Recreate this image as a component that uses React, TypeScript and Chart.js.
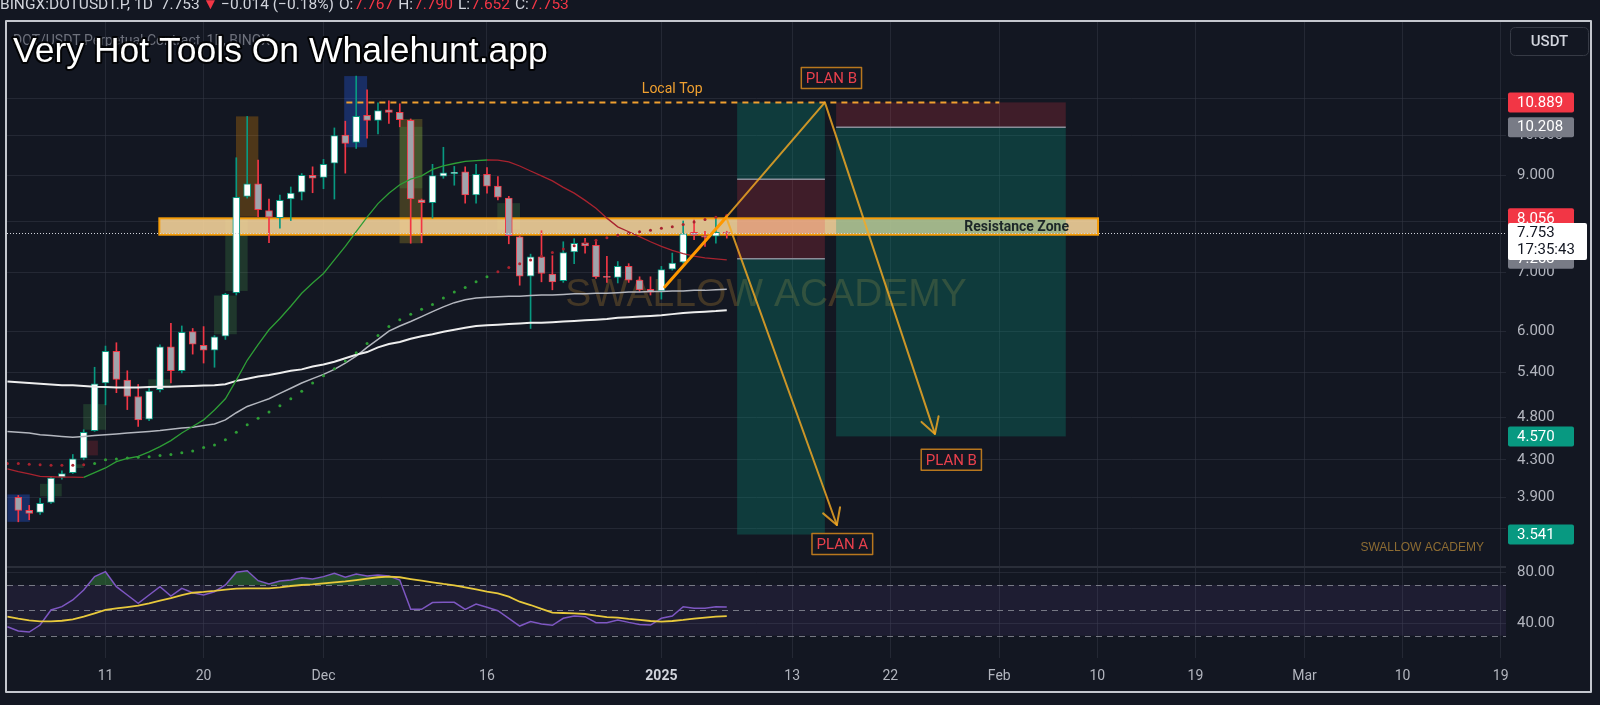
import React, { useEffect, useRef } from 'react';
import { Chart, registerables } from 'chart.js';

Chart.register(...registerables);

// ---------------- data (day 0 = 3 Nov 2024, one unit = one daily candle) ----------------
const CANDLE_FIRST_DAY = 0;
const opens = [3.90, 3.77, 3.75, 3.85, 4.11, 4.16, 4.32, 4.64, 5.25, 5.70,
  5.29, 5.07, 4.78, 5.16, 5.77, 5.42, 6.00, 5.79, 5.72, 5.93,
  6.64, 8.53, 8.81, 8.22, 8.07, 8.47, 8.62, 9.01, 8.96, 9.30,
  10.00, 9.81, 10.53, 10.39, 10.68, 10.61, 10.39, 8.45, 8.39, 8.99,
  9.05, 9.09, 8.56, 9.03, 8.76, 8.49, 7.68, 6.93, 7.29, 6.97,
  6.85, 7.38, 7.56, 7.51, 6.93, 6.91, 7.11, 6.86, 6.70, 6.67,
  7.06, 7.19, 7.77, 7.69, 7.69, 7.767];
const highs = [3.92, 3.82, 3.89, 4.12, 4.18, 4.36, 4.65, 5.47, 5.78, 5.83,
  5.42, 5.23, 5.18, 5.80, 6.13, 6.09, 6.05, 6.08, 5.94, 6.63,
  9.43, 10.50, 9.37, 8.47, 8.56, 8.74, 9.05, 9.21, 9.39, 10.19,
  10.37, 11.66, 11.25, 10.88, 10.93, 10.85, 10.43, 8.47, 9.27, 9.69,
  9.22, 9.21, 9.27, 9.19, 8.98, 8.53, 7.70, 7.34, 7.80, 7.31,
  7.58, 7.64, 7.65, 7.62, 7.30, 7.20, 7.16, 6.92, 6.92, 7.11,
  7.36, 8.00, 8.02, 7.79, 8.04, 7.79];
const lows = [3.66, 3.68, 3.73, 3.84, 4.09, 4.15, 4.30, 4.63, 4.96, 5.12,
  4.90, 4.69, 4.76, 5.13, 5.25, 5.39, 5.66, 5.53, 5.47, 5.88,
  6.60, 8.49, 8.09, 7.56, 7.85, 8.01, 8.45, 8.61, 8.70, 8.47,
  9.06, 9.66, 9.92, 10.03, 10.31, 10.22, 7.55, 7.56, 8.06, 8.94,
  8.78, 8.38, 8.38, 8.60, 8.45, 7.54, 6.77, 6.05, 6.83, 6.69,
  6.82, 7.16, 7.36, 6.89, 6.82, 6.81, 6.82, 6.66, 6.60, 6.53,
  7.04, 7.17, 7.62, 7.49, 7.55, 7.652];
const closes = [3.77, 3.74, 3.84, 4.10, 4.15, 4.31, 4.62, 5.24, 5.70, 5.30,
  5.07, 4.77, 5.14, 5.77, 5.42, 5.99, 5.81, 5.72, 5.92, 6.61,
  8.51, 8.81, 8.24, 8.08, 8.44, 8.60, 9.01, 8.94, 9.27, 9.99,
  9.79, 10.50, 10.39, 10.66, 10.61, 10.41, 8.47, 8.39, 9.00, 9.07,
  9.08, 8.56, 9.03, 8.76, 8.51, 7.70, 6.93, 7.29, 6.98, 6.83,
  7.37, 7.55, 7.50, 6.92, 6.91, 7.11, 6.86, 6.69, 6.65, 7.05,
  7.17, 7.74, 7.71, 7.67, 7.77, 7.753];

const LINE_FIRST_DAY = -1;
const sma200 = [5.27, 5.26, 5.25, 5.24, 5.23, 5.22, 5.22, 5.21, 5.20, 5.195, 5.19,
  5.19, 5.19, 5.195, 5.20, 5.20, 5.205, 5.21, 5.215, 5.22, 5.235,
  5.28, 5.31, 5.34, 5.36, 5.39, 5.42, 5.44, 5.48, 5.51, 5.55,
  5.60, 5.65, 5.69, 5.76, 5.81, 5.84, 5.89, 5.93, 5.96, 6.00,
  6.03, 6.06, 6.09, 6.10, 6.11, 6.12, 6.13, 6.14, 6.14, 6.15,
  6.16, 6.17, 6.18, 6.19, 6.20, 6.22, 6.23, 6.24, 6.25, 6.26,
  6.28, 6.30, 6.31, 6.32, 6.33, 6.345];
const sma100 = [4.63, 4.62, 4.61, 4.59, 4.58, 4.57, 4.56, 4.57, 4.58, 4.59, 4.60,
  4.61, 4.62, 4.63, 4.64, 4.655, 4.67, 4.68, 4.70, 4.72, 4.77,
  4.86, 4.94, 4.99, 5.04, 5.11, 5.18, 5.25, 5.31, 5.37, 5.44,
  5.53, 5.63, 5.76, 5.88, 6.01, 6.09, 6.16, 6.24, 6.32, 6.40,
  6.47, 6.52, 6.55, 6.56, 6.57, 6.58, 6.58, 6.59, 6.60, 6.60,
  6.61, 6.62, 6.62, 6.63, 6.63, 6.64, 6.65, 6.65, 6.66, 6.66,
  6.67, 6.67, 6.68, 6.68, 6.69, 6.70];
const ema20 = [4.20, 4.17, 4.145, 4.12, 4.115, 4.112, 4.11, 4.108, 4.16, 4.21, 4.28,
  4.315, 4.34, 4.39, 4.45, 4.52, 4.61, 4.69, 4.77, 4.895, 5.04,
  5.29, 5.57, 5.80, 6.03, 6.21, 6.41, 6.63, 6.81, 6.98, 7.23,
  7.49, 7.78, 8.08, 8.37, 8.60, 8.79, 8.92, 8.995, 9.15, 9.23,
  9.29, 9.34, 9.36, 9.375, 9.37, 9.33, 9.23, 9.11, 8.995, 8.88,
  8.73, 8.60, 8.44, 8.27, 8.06, 7.88, 7.78, 7.68, 7.58, 7.49,
  7.41, 7.35, 7.30, 7.27, 7.25, 7.23];
const trendDots = [4.26, 4.26, 4.25, 4.245, 4.24, 4.24, 4.24, 4.245, 4.26, 4.30, 4.31,
  4.32, 4.33, 4.335, 4.35, 4.36, 4.38, 4.40, 4.44, 4.47, 4.53,
  4.62, 4.71, 4.79, 4.87, 4.95, 5.04, 5.14, 5.25, 5.35, 5.45,
  5.56, 5.68, 5.82, 5.94, 6.08, 6.19, 6.28, 6.36, 6.44, 6.55,
  6.65, 6.73, 6.83, 6.92, 7.01, 7.09, 7.16, 7.23, 7.30, 7.37,
  7.44, 7.50, 7.56, 7.61, 7.66, 7.71, 7.75, 7.78, 7.81, 7.85,
  7.88, 7.93, 7.98, 8.03, 8.08, 8.12];
const rsiValues = [37.1, 33.7, 32.9, 38.4, 50.3, 52.9, 58.2, 66.1, 76.6, 80.5, 68.7,
  62.1, 55.5, 62.1, 68.7, 61.3, 67.4, 63.9, 62.1, 64.7, 70.0,
  80.0, 81.3, 73.4, 70.8, 73.2, 73.9, 75.8, 74.7, 76.6, 79.2,
  76.1, 78.7, 77.1, 77.9, 77.1, 73.9, 50.8, 50.8, 56.1, 56.3,
  56.3, 50.8, 55.0, 52.4, 49.7, 43.7, 37.6, 41.1, 39.2, 38.2,
  43.7, 45.5, 45.0, 40.3, 40.3, 42.4, 40.5, 38.9, 38.4, 43.7,
  45.5, 52.9, 51.6, 51.6, 52.9, 52.6];
const rsiAverage = [45.0, 43.4, 42.1, 41.3, 41.3, 41.8, 42.9, 45.0, 47.6, 50.3, 51.6,
  52.6, 53.7, 55.5, 57.6, 59.7, 62.1, 63.9, 64.5, 65.3, 66.3,
  67.1, 67.4, 67.4, 67.4, 68.2, 69.2, 70.0, 70.5, 71.3, 72.1,
  72.9, 73.9, 75.0, 76.1, 76.6, 76.1, 74.7, 73.4, 72.1, 70.8,
  69.7, 68.2, 66.6, 64.7, 63.4, 60.8, 56.8, 54.2, 51.1, 48.2,
  47.9, 47.6, 47.1, 45.8, 44.7, 44.2, 43.2, 42.4, 41.6, 41.1,
  41.6, 42.4, 43.4, 44.2, 45.0, 45.5];

const timeTickDays = [8, 17, 28, 43, 59, 71, 80, 90, 99, 108, 118, 127, 136];
const timeTickLabels = ['11', '20', 'Dec', '16', '2025', '13', '22', 'Feb', '10', '19', 'Mar', '10', '19'];
const boldTimeTick = 59;
const priceTickValues = [3.6, 3.9, 4.3, 4.8, 5.4, 6, 7, 8, 9, 10, 11];
const unlabeledPriceTicks = [3.6, 11];
const rsiTickValues = [40, 80];
const rsiLevelValues = [70, 50, 30];

const lastPrice = 7.753;
const countdownText = '17:35:43';
const badgeValues = [10.889, 10.208, 8.056, 7.253, 4.57, 3.541];
const badgeKinds = ['loss', 'entry', 'loss', 'entry', 'profit', 'profit'];

const highlightStartDays = [-1.0, 1.99, 5.0, 5.96, 5.96, 11.93, 17.96, 18.99, 19.97, 29.9, 34.98, 34.98, 43.95];
const highlightEndDays = [1.05, 3.98, 6.0, 7.3, 8.05, 13.98, 20.04, 21.04, 22.02, 32.0, 37.07, 37.07, 46.03];
const highlightLowPrices = [3.66, 3.91, 4.21, 4.35, 4.65, 5.18, 5.96, 6.67, 8.09, 9.69, 7.55, 8.71, 7.82];
const highlightHighPrices = [3.93, 4.04, 4.25, 4.52, 4.97, 5.30, 6.59, 8.04, 10.50, 11.66, 10.43, 10.22, 8.38];
const highlightKinds = ['blue', 'green', 'green', 'maroon', 'green', 'green', 'green', 'green', 'orange', 'blue', 'olive', 'green', 'green'];

const zoneDays = [12.94, 99.06];
const zonePrices = [7.72, 8.056];
const zoneTextDay = 96.4;
const zoneText = 'Resistance Zone';

const localTopDays = [30.1, 90.0];
const localTopPrice = 10.889;
const localTopLabelDay = 60.0;
const localTopLabelPrice = 11.27;

const toolRectStartDays = [65.95, 65.95, 65.95, 75.03, 75.03];
const toolRectEndDays = [74.0, 74.0, 74.0, 96.1, 96.1];
const toolRectHighPrices = [10.889, 8.92, 7.253, 10.889, 10.208];
const toolRectLowPrices = [8.92, 7.253, 3.541, 10.208, 4.57];
const toolRectKinds = ['profit', 'loss', 'profit', 'loss', 'profit'];
const toolLineStartDays = [65.95, 65.95, 75.03];
const toolLineEndDays = [74.0, 74.0, 96.1];
const toolLinePrices = [8.92, 7.253, 10.208];

const impulseDays = [59.3, 64.95];
const impulsePrices = [6.74, 8.08];
const planBDays = [64.95, 74.0, 84.1];
const planBPrices = [8.08, 10.889, 4.6];
const planADays = [64.95, 75.1];
const planAPrices = [8.08, 3.63];

const planLabelTexts = ['PLAN B', 'PLAN B', 'PLAN A'];
const planLabelDays = [74.6, 85.6, 75.6];
const planLabelPrices = [11.6, 4.3, 3.456];

const watermarkText = 'SWALLOW ACADEMY';
const watermarkDay = 68.6;
const watermarkPrice = 6.6;

const headerParts = ['BINGX:DOTUSDT.P, 1D', '7.753', '\u25BC', '\u22120.014 (\u22120.18%)', 'O:', '7.767', 'H:', '7.790', 'L:', '7.652', 'C:', '7.753'];
const headerGaps = [0, 8, 3, 3, 5, 1, 5, 1, 5, 1, 5, 1];
const headerPartRed = [false, false, true, false, false, true, false, true, false, true, false, true];
const titleText = 'Very Hot Tools On Whalehunt.app';
const subtitleText = 'DOT/USDT Perpetual Contract, 1D, BINGX';

// ---------------- styles ----------------
const BG = '#131722';
const GRID = 'rgba(54,58,69,0.5)';
const AXIS_TEXT = '#b2b5be';
const BULL = '#089981';
const BEAR = '#f23645';
const EMA_UP = '#2e9e36';
const EMA_DOWN = '#a8232f';
const FONT = 'Roboto, "Noto Sans", sans-serif';
const ARIAL = '"Liberation Sans", Arial, sans-serif';

const highlightFill: Record<string, string> = {
  blue: 'rgba(41,98,255,0.3)',
  green: 'rgba(76,175,80,0.22)',
  orange: 'rgba(255,152,0,0.25)',
  olive: 'rgba(190,160,40,0.28)',
  maroon: 'rgba(242,54,69,0.18)',
};
const toolFill: Record<string, string> = {
  profit: 'rgba(8,153,129,0.28)',
  loss: 'rgba(242,54,69,0.2)',
};
const badgeFill: Record<string, string> = {
  loss: '#f23645',
  entry: '#787b86',
  profit: '#089981',
};

function drawArrowHead(ctx: CanvasRenderingContext2D, x0: number, y0: number, x1: number, y1: number, len: number) {
  const a = Math.atan2(y1 - y0, x1 - x0);
  const spread = Math.PI / 6;
  ctx.beginPath();
  ctx.moveTo(x1 - len * Math.cos(a - spread), y1 - len * Math.sin(a - spread));
  ctx.lineTo(x1, y1);
  ctx.lineTo(x1 - len * Math.cos(a + spread), y1 - len * Math.sin(a + spread));
  ctx.stroke();
}

const overlayPlugin = {
  id: 'tvOverlay',
  beforeDatasetsDraw(chart: any) {
    const { ctx, chartArea } = chart;
    const xs = chart.scales.x, ys = chart.scales.y, rs = chart.scales.yRsi;
    const X = (d: number) => xs.getPixelForValue(d);
    const Y = (p: number) => ys.getPixelForValue(p);
    const R = (v: number) => rs.getPixelForValue(v);
    const L = chartArea.left, RT = chartArea.right, W = RT - L;
    ctx.save();
    // pane separator
    ctx.strokeStyle = '#2a2e39';
    ctx.lineWidth = 2;
    ctx.beginPath();
    ctx.moveTo(L, ys.bottom);
    ctx.lineTo(RT, ys.bottom);
    ctx.stroke();
    // RSI band + levels
    ctx.fillStyle = 'rgba(126,87,194,0.1)';
    ctx.fillRect(L, R(70), W, R(30) - R(70));
    ctx.setLineDash([6, 5]);
    ctx.lineWidth = 1;
    ctx.strokeStyle = 'rgba(149,152,161,0.75)';
    rsiLevelValues.forEach((v) => {
      const yy = Math.round(R(v)) + 0.5;
      ctx.beginPath();
      ctx.moveTo(L, yy);
      ctx.lineTo(RT, yy);
      ctx.stroke();
    });
    ctx.setLineDash([]);

    // price pane clip
    ctx.beginPath();
    ctx.rect(L, ys.top, W, ys.bottom - ys.top);
    ctx.clip();

    // big watermark
    ctx.font = '39px ' + ARIAL;
    ctx.fillStyle = 'rgba(180,130,50,0.3)';
    ctx.textAlign = 'center';
    ctx.textBaseline = 'middle';
    ctx.fillText(watermarkText, X(watermarkDay), Y(watermarkPrice));

    // highlight boxes
    highlightKinds.forEach((k, i) => {
      const x0 = X(highlightStartDays[i]), x1 = X(highlightEndDays[i]);
      const y0 = Y(highlightHighPrices[i]), y1 = Y(highlightLowPrices[i]);
      ctx.fillStyle = highlightFill[k];
      ctx.fillRect(x0, y0, x1 - x0, y1 - y0);
    });

    // resistance zone fill
    const zx0 = X(zoneDays[0]), zx1 = X(zoneDays[1]);
    const zy0 = Y(zonePrices[1]), zy1 = Y(zonePrices[0]);
    ctx.fillStyle = 'rgba(255,220,160,0.85)';
    ctx.fillRect(zx0, zy0, zx1 - zx0, zy1 - zy0);

    // position tools
    toolRectKinds.forEach((k, i) => {
      const x0 = X(toolRectStartDays[i]), x1 = X(toolRectEndDays[i]);
      const y0 = Y(toolRectHighPrices[i]), y1 = Y(toolRectLowPrices[i]);
      ctx.fillStyle = toolFill[k];
      ctx.fillRect(x0, y0, x1 - x0, y1 - y0);
    });
    ctx.strokeStyle = '#8a8e99';
    ctx.lineWidth = 1.5;
    toolLinePrices.forEach((p, i) => {
      const yy = Y(p);
      ctx.beginPath();
      ctx.moveTo(X(toolLineStartDays[i]), yy);
      ctx.lineTo(X(toolLineEndDays[i]), yy);
      ctx.stroke();
    });

    // zone border
    ctx.strokeStyle = '#f59d0a';
    ctx.lineWidth = 2;
    ctx.strokeRect(zx0, zy0, zx1 - zx0, zy1 - zy0);

    // local top
    ctx.setLineDash([6, 5]);
    ctx.strokeStyle = '#f0a030';
    ctx.lineWidth = 2;
    ctx.beginPath();
    ctx.moveTo(X(localTopDays[0]), Y(localTopPrice));
    ctx.lineTo(X(localTopDays[1]), Y(localTopPrice));
    ctx.stroke();
    ctx.setLineDash([]);
    ctx.font = '14px ' + FONT;
    ctx.fillStyle = '#f0a030';
    ctx.fillText('Local Top', X(localTopLabelDay), Y(localTopLabelPrice));
    ctx.restore();
  },
  afterDatasetsDraw(chart: any) {
    const { ctx, chartArea } = chart;
    const xs = chart.scales.x, ys = chart.scales.y;
    const X = (d: number) => xs.getPixelForValue(d);
    const Y = (p: number) => ys.getPixelForValue(p);
    const L = chartArea.left, RT = chartArea.right, W = RT - L;
    ctx.save();
    ctx.beginPath();
    ctx.rect(L, ys.top, W, ys.bottom - ys.top);
    ctx.clip();

    // last price dotted line
    const ly = Math.round(Y(lastPrice)) + 0.5;
    ctx.setLineDash([1, 2]);
    ctx.strokeStyle = '#d1d4dc';
    ctx.lineWidth = 1;
    ctx.beginPath();
    ctx.moveTo(L, ly);
    ctx.lineTo(RT, ly);
    ctx.stroke();
    ctx.setLineDash([]);

    // zone caption
    const zc = (Y(zonePrices[0]) + Y(zonePrices[1])) / 2;
    ctx.font = 'bold 14px ' + FONT;
    ctx.fillStyle = '#1c2628';
    ctx.textAlign = 'right';
    ctx.textBaseline = 'middle';
    ctx.fillText(zoneText, X(zoneTextDay), zc + 1);

    // scenario paths
    ctx.lineCap = 'round';
    ctx.lineJoin = 'round';
    ctx.strokeStyle = 'rgba(245,170,35,0.82)';
    ctx.lineWidth = 2;
    ctx.beginPath();
    planBDays.forEach((d, i) => {
      const px = X(d), py = Y(planBPrices[i]);
      if (i === 0) ctx.moveTo(px, py); else ctx.lineTo(px, py);
    });
    ctx.stroke();
    const nB = planBDays.length;
    drawArrowHead(ctx, X(planBDays[nB - 2]), Y(planBPrices[nB - 2]), X(planBDays[nB - 1]), Y(planBPrices[nB - 1]), 18);
    ctx.beginPath();
    ctx.moveTo(X(planADays[0]), Y(planAPrices[0]));
    ctx.lineTo(X(planADays[1]), Y(planAPrices[1]));
    ctx.stroke();
    drawArrowHead(ctx, X(planADays[0]), Y(planAPrices[0]), X(planADays[1]), Y(planAPrices[1]), 18);
    ctx.strokeStyle = '#ff9800';
    ctx.lineWidth = 3;
    ctx.beginPath();
    ctx.moveTo(X(impulseDays[0]), Y(impulsePrices[0]));
    ctx.lineTo(X(impulseDays[1]), Y(impulsePrices[1]));
    ctx.stroke();

    // plan labels
    ctx.font = '15px ' + FONT;
    ctx.textAlign = 'center';
    ctx.textBaseline = 'middle';
    planLabelTexts.forEach((t, i) => {
      const cx = X(planLabelDays[i]), cy = Y(planLabelPrices[i]);
      const w = ctx.measureText(t).width + 9;
      const h = 21;
      ctx.fillStyle = BG;
      ctx.fillRect(cx - w / 2, cy - h / 2, w, h);
      ctx.strokeStyle = '#b8771e';
      ctx.lineWidth = 1.5;
      ctx.strokeRect(cx - w / 2, cy - h / 2, w, h);
      ctx.fillStyle = '#e8404c';
      ctx.fillText(t, cx, cy + 1);
    });

    // small watermark
    ctx.font = '12px ' + ARIAL;
    ctx.fillStyle = '#8d6c33';
    ctx.textAlign = 'right';
    ctx.fillText(watermarkText, RT - 22, ys.bottom - 19);
    ctx.restore();
  },
  afterDraw(chart: any) {
    const { ctx, chartArea } = chart;
    const ys = chart.scales.y;
    const RT = chartArea.right;
    ctx.save();
    const rr = (x: number, y: number, w: number, h: number, r: number) => {
      ctx.beginPath();
      ctx.moveTo(x + r, y);
      ctx.lineTo(x + w - r, y);
      ctx.quadraticCurveTo(x + w, y, x + w, y + r);
      ctx.lineTo(x + w, y + h - r);
      ctx.quadraticCurveTo(x + w, y + h, x + w - r, y + h);
      ctx.lineTo(x + r, y + h);
      ctx.quadraticCurveTo(x, y + h, x, y + h - r);
      ctx.lineTo(x, y + r);
      ctx.quadraticCurveTo(x, y, x + r, y);
      ctx.closePath();
    };
    // price badges
    ctx.font = '15px ' + FONT;
    ctx.textAlign = 'left';
    ctx.textBaseline = 'middle';
    badgeValues.forEach((v, i) => {
      const cy = ys.getPixelForValue(v);
      ctx.fillStyle = badgeFill[badgeKinds[i]];
      rr(RT + 2, cy - 10, 66, 20, 2);
      ctx.fill();
      ctx.fillStyle = '#ffffff';
      ctx.fillText(v.toFixed(3), RT + 11, cy + 0.5);
    });
    const ly = ys.getPixelForValue(lastPrice);
    ctx.fillStyle = '#ffffff';
    rr(RT + 2, ly - 10, 79, 37, 2);
    ctx.fill();
    ctx.fillStyle = '#131722';
    ctx.fillText(lastPrice.toFixed(3), RT + 11, ly + 0.5);
    ctx.fillText(countdownText, RT + 11, ly + 17);

    // header (laid out left to right)
    ctx.font = '15.5px ' + FONT;
    ctx.textBaseline = 'alphabetic';
    let hx = 0;
    headerParts.forEach((t, i) => {
      hx += headerGaps[i];
      ctx.fillStyle = headerPartRed[i] ? '#f23645' : '#d1d4dc';
      ctx.fillText(t, hx, 9);
      hx += ctx.measureText(t).width;
    });
    // subtitle + title
    ctx.font = '14px ' + FONT;
    ctx.fillStyle = 'rgba(120,123,134,0.9)';
    ctx.textBaseline = 'middle';
    ctx.fillText(subtitleText, 13, 41);
    ctx.font = '35.5px ' + ARIAL;
    ctx.textBaseline = 'alphabetic';
    ctx.lineJoin = 'round';
    ctx.strokeStyle = 'rgba(0,0,0,0.85)';
    ctx.lineWidth = 4;
    ctx.strokeText(titleText, 13, 62);
    ctx.fillStyle = '#ffffff';
    ctx.fillText(titleText, 13, 62);

    // currency button
    ctx.strokeStyle = '#363a45';
    ctx.lineWidth = 1;
    rr(RT + 4.5, 27.5, 78, 28, 5);
    ctx.stroke();
    ctx.font = '500 15px ' + FONT;
    ctx.fillStyle = '#d1d4dc';
    ctx.textAlign = 'center';
    ctx.textBaseline = 'middle';
    ctx.fillText('USDT', RT + 43.5, 42);

    // outer frame
    ctx.strokeStyle = '#c4c7ce';
    ctx.lineWidth = 2;
    ctx.strokeRect(6, 21, 1585, 671);
    ctx.restore();
  },
};

export default function App() {
  const canvasRef = useRef<HTMLCanvasElement | null>(null);

  useEffect(() => {
    const canvas = canvasRef.current;
    if (!canvas) return;
    const candleDays = opens.map((_, i) => CANDLE_FIRST_DAY + i);
    const bull = opens.map((o, i) => closes[i] >= o);
    const bodies = opens.map((o, i) => ({ x: candleDays[i], y: [o, closes[i]] }));
    const wicks = lows.map((l, i) => ({ x: candleDays[i], y: [l, highs[i]] }));
    const pts = (arr: number[]) => arr.map((v, i) => ({ x: LINE_FIRST_DAY + i, y: v }));
    const dotColors = trendDots.map((_, i) => (i > 0 && ema20[i] > ema20[i - 1] ? EMA_UP : EMA_DOWN));

    Chart.defaults.font.family = FONT;

    const chart = new Chart(canvas, {
      type: 'line',
      data: {
        datasets: [
          {
            type: 'bar', label: 'wicks', data: wicks as any, yAxisID: 'y', order: 6,
            grouped: false, maxBarThickness: 1, barPercentage: 1, categoryPercentage: 1,
            backgroundColor: bull.map((b) => (b ? BULL : BEAR)), borderWidth: 0,
          } as any,
          {
            type: 'bar', label: 'bodies', data: bodies as any, yAxisID: 'y', order: 5,
            grouped: false, maxBarThickness: 7, barPercentage: 1, categoryPercentage: 1,
            backgroundColor: bull.map((b) => (b ? '#ffffff' : '#a0a3ab')),
            borderColor: bull.map((b) => (b ? BULL : BEAR)), borderWidth: 1, borderSkipped: false,
          } as any,
          {
            label: 'SMA 200', data: pts(sma200), yAxisID: 'y', order: 3,
            borderColor: '#eeeeee', borderWidth: 2, pointRadius: 0, tension: 0,
          },
          {
            label: 'SMA 100', data: pts(sma100), yAxisID: 'y', order: 3,
            borderColor: '#b4b7bf', borderWidth: 1.5, pointRadius: 0, tension: 0,
          },
          {
            label: 'EMA', data: pts(ema20), yAxisID: 'y', order: 2,
            borderColor: EMA_UP, borderWidth: 1.3, pointRadius: 0, tension: 0,
            segment: { borderColor: (c: any) => (c.p1.parsed.y > c.p0.parsed.y ? EMA_UP : EMA_DOWN) },
          } as any,
          {
            label: 'dots', data: pts(trendDots), yAxisID: 'y', order: 2, showLine: false,
            pointRadius: 1.5, pointBorderWidth: 0, pointBackgroundColor: dotColors,
          } as any,
          {
            label: 'RSI', data: pts(rsiValues), yAxisID: 'yRsi', order: 1,
            borderColor: '#7e57c2', borderWidth: 1.5, pointRadius: 0, tension: 0,
            fill: { target: { value: 70 }, above: 'rgba(56,142,60,0.45)', below: 'rgba(0,0,0,0)' },
          } as any,
          {
            label: 'RSI MA', data: pts(rsiAverage), yAxisID: 'yRsi', order: 0,
            borderColor: '#e8c93c', borderWidth: 1.8, pointRadius: 0, tension: 0,
          },
        ],
      },
      options: {
        animation: false,
        responsive: true,
        maintainAspectRatio: false,
        devicePixelRatio: 1,
        events: [],
        layout: { padding: { left: 7, right: 10, top: 21, bottom: 13 } },
        plugins: { legend: { display: false }, tooltip: { enabled: false } },
        scales: {
          x: {
            type: 'linear', min: -1.037, max: 136.49, offset: false,
            grid: { color: GRID, drawTicks: false, offset: false },
            border: { display: false },
            afterBuildTicks: (s: any) => { s.ticks = timeTickDays.map((v) => ({ value: v })); },
            afterFit: (s: any) => { s.height = 34; },
            ticks: {
              autoSkip: false, maxRotation: 0, padding: 10,
              color: (c: any) => (c.tick && c.tick.value === boldTimeTick ? '#d1d4dc' : AXIS_TEXT),
              font: (c: any) => (c.tick && c.tick.value === boldTimeTick
                ? { family: FONT, size: 14, weight: 'bold' } : { family: FONT, size: 14 }),
              callback: (v: any) => { const k = timeTickDays.indexOf(Number(v)); return k >= 0 ? timeTickLabels[k] : ''; },
            },
          },
          y: {
            type: 'logarithmic', position: 'right', stack: 'panes', stackWeight: 546,
            min: 3.2545, max: 13.455,
            grid: { color: GRID, drawTicks: false },
            border: { display: false },
            afterBuildTicks: (s: any) => { s.ticks = priceTickValues.map((v) => ({ value: v })); },
            afterFit: (s: any) => { s.width = 84; },
            ticks: {
              autoSkip: false, padding: 11, color: AXIS_TEXT, font: { family: FONT, size: 15 },
              callback: (v: any) => (unlabeledPriceTicks.indexOf(Number(v)) >= 0 ? '' : Number(v).toFixed(3)),
            },
          } as any,
          yRsi: {
            type: 'linear', axis: 'y', position: 'right', stack: 'panes', stackWeight: 91,
            min: 12.4, max: 84.2,
            grid: { color: GRID, drawTicks: false },
            border: { display: false },
            afterBuildTicks: (s: any) => { s.ticks = rsiTickValues.map((v) => ({ value: v })); },
            afterFit: (s: any) => { s.width = 84; },
            ticks: {
              autoSkip: false, padding: 11, color: AXIS_TEXT, font: { family: FONT, size: 15 },
              callback: (v: any) => Number(v).toFixed(2),
            },
          } as any,
        },
      },
      plugins: [overlayPlugin as any],
    });
    return () => chart.destroy();
  }, []);

  return (
    <div style={{ position: 'fixed', left: 0, top: 0, width: 1600, height: 705, background: BG }}>
      <canvas ref={canvasRef} style={{ display: 'block', width: 1600, height: 705 }} />
    </div>
  );
}
